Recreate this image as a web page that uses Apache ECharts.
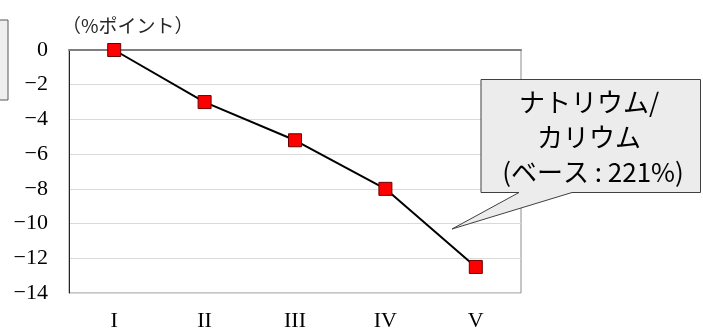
<!DOCTYPE html>
<html>
<head>
<meta charset="utf-8">
<script src="https://cdn.jsdelivr.net/npm/echarts@6/dist/echarts.min.js"></script>
<style>
  html, body { margin: 0; padding: 0; background: #fff; }
  #chart { width: 703px; height: 332px; }
</style>
</head>
<body>
<div id="chart"></div>
<script>
// Quintile categories and change in ratio (percentage points)
const categories = ['I', 'II', 'III', 'IV', 'V'];
const values = [0, -3.0, -5.2, -8.0, -12.5];
const yMin = -14;
const yMax = 0;
const yStep = 2;
const unitLabel = '（%ポイント）';
const calloutLines = ['ナトリウム/', 'カリウム', '(ベース : 221%)'];

const chart = echarts.init(document.getElementById('chart'), null, { renderer: 'canvas' });

const serif = '"Liberation Serif", "DejaVu Serif", serif';
const jp = '"Noto Sans CJK JP", sans-serif';

chart.setOption({
  animation: false,
  backgroundColor: '#ffffff',
  grid: {
    left: 69, right: 182, top: 50, bottom: 39,
    show: true, borderColor: '#8c8c8c', borderWidth: 1
  },
  title: {
    text: unitLabel,
    left: 57, top: 11,
    textStyle: { fontFamily: jp, fontSize: 19, fontWeight: 'normal', color: '#262626' }
  },
  xAxis: {
    type: 'category',
    data: categories,
    boundaryGap: true,
    axisTick: { show: false },
    axisLine: { show: true, lineStyle: { color: '#7f7f7f', width: 2 } },
    axisLabel: { fontFamily: serif, fontSize: 22, color: '#000', margin: 17 },
    splitLine: { show: false }
  },
  yAxis: {
    type: 'value',
    min: yMin, max: yMax, interval: yStep,
    axisTick: { show: false },
    axisLine: { show: true, lineStyle: { color: '#262626', width: 1 } },
    axisLabel: {
      fontFamily: serif, fontSize: 22, color: '#000', margin: 21,
      formatter: v => String(v).replace('-', '−')
    },
    splitLine: { show: true, lineStyle: { color: '#d9d9d9', width: 1 } }
  },
  series: [{
    type: 'line',
    data: values,
    symbol: 'rect',
    symbolSize: 13,
    lineStyle: { color: '#000', width: 2 },
    itemStyle: { color: '#ff0000', borderColor: '#6b0000', borderWidth: 1 },
    z: 3
  }],
  graphic: [
    // cut-off box at the left edge
    {
      type: 'rect', z: 10,
      shape: { x: -2, y: 20, width: 10, height: 80 },
      style: { fill: '#eeeeee', stroke: '#595959', lineWidth: 1 }
    },
    // callout with pointer
    {
      type: 'polygon', z: 10,
      shape: {
        points: [[481, 79.5], [700.5, 79.5], [700.5, 192.5], [572, 192.5],
                 [452, 229], [519, 192.5], [481, 192.5]]
      },
      style: { fill: '#ececec', stroke: '#404040', lineWidth: 1 }
    },
    {
      type: 'text', z: 11, x: 589, y: 102,
      style: { text: calloutLines[0], font: '26px ' + jp, fill: '#000',
               align: 'center', verticalAlign: 'middle' }
    },
    {
      type: 'text', z: 11, x: 589, y: 137,
      style: { text: calloutLines[1], font: '26px ' + jp, fill: '#000',
               align: 'center', verticalAlign: 'middle' }
    },
    {
      type: 'text', z: 11, x: 593, y: 172,
      style: { text: calloutLines[2], font: '26px ' + jp, fill: '#000',
               align: 'center', verticalAlign: 'middle' }
    }
  ]
});
</script>
</body>
</html>
